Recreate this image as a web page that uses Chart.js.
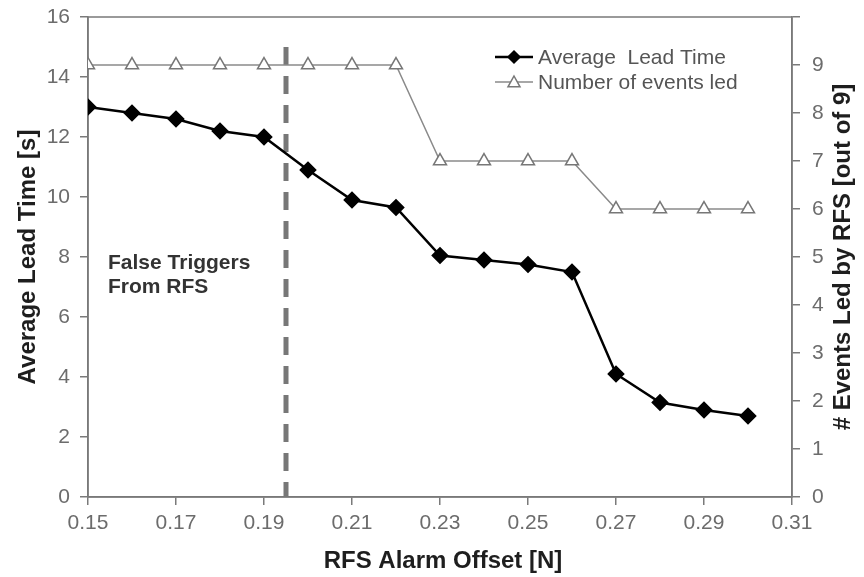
<!DOCTYPE html>
<html lang="en">
<head>
<meta charset="utf-8">
<script src="https://cdn.jsdelivr.net/npm/chart.js@4.4.1/dist/chart.umd.min.js"></script>
<style>
  html, body { margin: 0; padding: 0; background: #fff; }
  #wrap { width: 864px; height: 577px; position: relative; }
</style>
</head>
<body>
<div id="wrap">
  <canvas id="leadChart"></canvas>
</div>
<script>
  // data
  const offsets = [0.15, 0.16, 0.17, 0.18, 0.19, 0.20, 0.21, 0.22, 0.23, 0.24, 0.25, 0.26, 0.27, 0.28, 0.29, 0.30];
  const leadTime = [13.0, 12.8, 12.6, 12.2, 12.0, 10.9, 9.9, 9.65, 8.05, 7.9, 7.75, 7.5, 4.1, 3.15, 2.9, 2.7];
  const eventsLed = [9, 9, 9, 9, 9, 9, 9, 9, 7, 7, 7, 7, 6, 6, 6, 6];
  const seriesNames = ['Average  Lead Time', 'Number of events led'];
  const xTitle = 'RFS Alarm Offset [N]';
  const yTitle = 'Average Lead Time [s]';
  const y1Title = '# Events Led by RFS [out of 9]';
  const falseTriggerOffset = 0.195;
  const falseTriggerTop = 15;
  const noteLines = ['False Triggers', 'From RFS'];

  const AXIS = '#7a7a7a';
  const TICK = '#6c6c6c';
  const FONT = 'Liberation Sans, Arial, sans-serif';

  const decor = {
    id: 'decor',
    beforeDatasetsDraw(chart) {
      const { ctx, chartArea: a, scales } = chart;
      ctx.save();
      // plot frame (top + right edges, left/bottom come from axes)
      ctx.strokeStyle = AXIS;
      ctx.lineWidth = 1.5;
      ctx.strokeRect(a.left, a.top, a.right - a.left, a.bottom - a.top);
      // dashed marker
      const xp = scales.x.getPixelForValue(falseTriggerOffset);
      ctx.strokeStyle = '#777';
      ctx.lineWidth = 5;
      ctx.setLineDash([18, 11]);
      ctx.beginPath();
      ctx.moveTo(xp, scales.y.getPixelForValue(falseTriggerTop));
      ctx.lineTo(xp, a.bottom);
      ctx.stroke();
      ctx.setLineDash([]);
      // note
      ctx.fillStyle = '#333';
      ctx.font = 'bold 21px ' + FONT;
      ctx.textBaseline = 'middle';
      ctx.textAlign = 'left';
      noteLines.forEach((t, i) => ctx.fillText(t, a.left + 20, a.top + 246 + i * 24));
      ctx.restore();
    },
    afterDraw(chart) {
      const { ctx, chartArea: a } = chart;
      ctx.save();
      // axis titles
      ctx.fillStyle = '#1e1e1e';
      ctx.font = 'bold 24px ' + FONT;
      ctx.textAlign = 'center';
      ctx.textBaseline = 'middle';
      const cy = (a.top + a.bottom) / 2;
      ctx.fillText(xTitle, (a.left + a.right) / 2 + 3, a.bottom + 64);
      ctx.save();
      ctx.translate(a.left - 60, cy);
      ctx.rotate(-Math.PI / 2);
      ctx.fillText(yTitle, 0, 0);
      ctx.restore();
      ctx.save();
      ctx.translate(a.right + 51, cy);
      ctx.rotate(-Math.PI / 2);
      ctx.fillText(y1Title, 0, 0);
      ctx.restore();

      // legend
      ctx.font = '21px ' + FONT;
      ctx.textAlign = 'left';
      const lx = 495, rows = [57, 82];
      chart.data.datasets.forEach((ds, i) => {
        const y = rows[i];
        ctx.strokeStyle = ds.borderColor;
        ctx.lineWidth = ds.borderWidth;
        ctx.beginPath();
        ctx.moveTo(lx, y);
        ctx.lineTo(lx + 38, y);
        ctx.stroke();
        const mx = lx + 19;
        ctx.lineWidth = 1.5;
        ctx.fillStyle = ds.pointBackgroundColor;
        ctx.strokeStyle = ds.pointBorderColor;
        ctx.beginPath();
        if (ds.pointStyle === 'rectRot') {
          const r = 6;
          ctx.moveTo(mx, y - r); ctx.lineTo(mx + r, y); ctx.lineTo(mx, y + r); ctx.lineTo(mx - r, y);
        } else {
          const r = 6;
          ctx.moveTo(mx, y - r); ctx.lineTo(mx + r, y + r * 0.8); ctx.lineTo(mx - r, y + r * 0.8);
        }
        ctx.closePath();
        ctx.fill();
        ctx.stroke();
        ctx.fillStyle = '#555';
        ctx.fillText(ds.label, lx + 43, y + 1);
      });
      ctx.restore();
    }
  };

  const chartData = {
    datasets: [
      {
        label: seriesNames[0],
        data: offsets.map((x, i) => ({ x: x, y: leadTime[i] })),
        yAxisID: 'y',
        borderColor: '#000',
        borderWidth: 2.5,
        pointStyle: 'rectRot',
        pointRadius: 7,
        pointBackgroundColor: '#000',
        pointBorderColor: '#000',
        order: 1,
      },
      {
        label: seriesNames[1],
        data: offsets.map((x, i) => ({ x: x, y: eventsLed[i] })),
        yAxisID: 'y1',
        borderColor: '#8a8a8a',
        borderWidth: 1.5,
        pointStyle: 'triangle',
        pointRadius: 7.5,
        pointBorderWidth: 1.5,
        pointBackgroundColor: '#fff',
        pointBorderColor: '#777',
        order: 2,
      },
    ]
  };

  const tickFont = { family: FONT, size: 21 };

  // vertical axes: fixed width, no label overflow padding so the plot spans 17..497
  const fixVertical = w => s => { s.width = w; s.paddingTop = 0; s.paddingBottom = 0; };

  new Chart(document.getElementById('leadChart'), {
    type: 'line',
    data: chartData,
    plugins: [decor],
    options: {
      responsive: true,
      maintainAspectRatio: false,
      animation: false,
      layout: { padding: { top: 17, left: 0, right: 0, bottom: 0 } },
      plugins: { legend: { display: false }, tooltip: { enabled: false } },
      scales: {
        x: {
          type: 'linear',
          min: 0.15,
          max: 0.31,
          ticks: {
            stepSize: 0.02,
            color: TICK,
            font: tickFont,
            padding: 6,
            maxRotation: 0,
            callback: v => v.toFixed(2),
          },
          grid: { drawOnChartArea: false, color: AXIS, tickLength: 8, lineWidth: 1.5 },
          border: { color: AXIS, width: 1.5 },
          afterFit: s => { s.height = 80; },
        },
        y: {
          position: 'left',
          min: 0,
          max: 16,
          ticks: { stepSize: 2, color: TICK, font: tickFont, padding: 10 },
          grid: { drawOnChartArea: false, color: AXIS, tickLength: 8, lineWidth: 1.5 },
          border: { color: AXIS, width: 1.5 },
          afterFit: fixVertical(88),
        },
        y1: {
          position: 'right',
          min: 0,
          max: 10,
          ticks: {
            stepSize: 1,
            color: TICK,
            font: tickFont,
            padding: 12,
            callback: v => (v === 10 ? '' : v),
          },
          grid: { drawOnChartArea: false, color: AXIS, tickLength: 8, lineWidth: 1.5 },
          border: { color: AXIS, width: 1.5 },
          afterFit: fixVertical(72),
        },
      },
    },
  });
</script>
</body>
</html>
